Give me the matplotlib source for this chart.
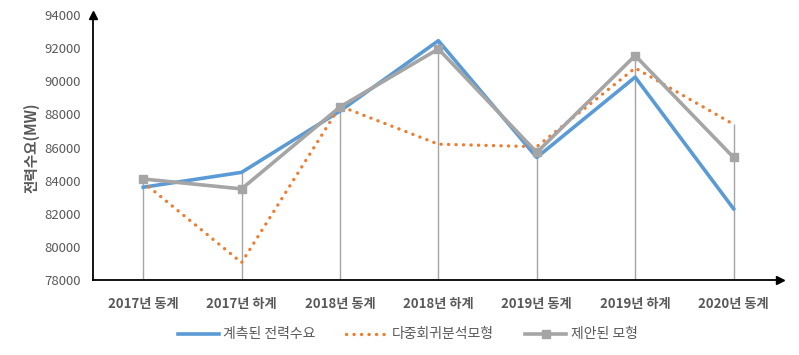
import numpy as np
import matplotlib
matplotlib.use("Agg")
from matplotlib import pyplot as plt

plt.rcParams['font.family'] = ['Noto Sans CJK KR', 'DejaVu Sans']

# Daten
categories = ["2017년 동계", "2017년 하계", "2018년 동계", "2018년 하계",
              "2019년 동계", "2019년 하계", "2020년 동계"]
measured = [83600, 84500, 88200, 92450, 85400, 90250, 82300]
regression = [83900, 79050, 88500, 86200, 86050, 90800, 87400]
proposed = [84100, 83500, 88450, 91950, 85700, 91550, 85400]
yticks = [78000, 80000, 82000, 84000, 86000, 88000, 90000, 92000, 94000]

x = np.arange(len(categories))

fig = plt.figure(figsize=(7.99, 3.55), dpi=100)
ax = fig.add_axes([0.1164, 0.2113, 0.976 - 0.1164, 0.9577 - 0.2113])

# Falllinien bis zum hoechsten Wert
top = np.maximum(np.maximum(measured, regression), proposed)
ax.vlines(x, 78000, top, color='#A5A5A5', linewidth=1, zorder=1)

# Diagramme
ax.plot(x, measured, color='#5B9BD5', linewidth=2.6, label='계측된 전력수요', zorder=3)
ax.plot(x, regression, color='#ED7D31', linewidth=2.4, linestyle=(0, (0.05, 2.2)),
        dash_capstyle='round', label='다중회귀분석모형', zorder=3)
ax.plot(x, proposed, color='#A5A5A5', linewidth=2.6, marker='s', markersize=6,
        label='제안된 모형', zorder=4)

# Achsen
ax.set_xlim(-0.51, 6.47)
ax.set_ylim(78000, 94000)
ax.set_yticks(yticks)
ax.set_yticklabels([str(v) for v in yticks], color='#595959', fontsize=9.5)
ax.set_xticks(x)
ax.set_xticklabels(categories, color='#595959', fontsize=9.5, fontweight='bold')
ax.tick_params(length=0, pad=12, axis='x')
ax.tick_params(length=0, pad=9, axis='y')
for s in ['top', 'right']:
    ax.spines[s].set_visible(False)
for s in ['left', 'bottom']:
    ax.spines[s].set_color('black')
    ax.spines[s].set_linewidth(1.3)
ax.plot(1, 0, '>k', markersize=6, transform=ax.transAxes, clip_on=False)
ax.plot(0, 1, '^k', markersize=6, transform=ax.transAxes, clip_on=False)

ax.set_ylabel("전력수요(MW)", color='#595959', fontsize=10.5, fontweight='bold', labelpad=3)

fig.legend(loc='center', bbox_to_anchor=(0.51, 0.058), ncol=3, frameon=False,
           fontsize=10, handlelength=3, columnspacing=2.2, handletextpad=0.3,
           labelcolor='#595959')

fig.savefig("out.png", dpi=100)
